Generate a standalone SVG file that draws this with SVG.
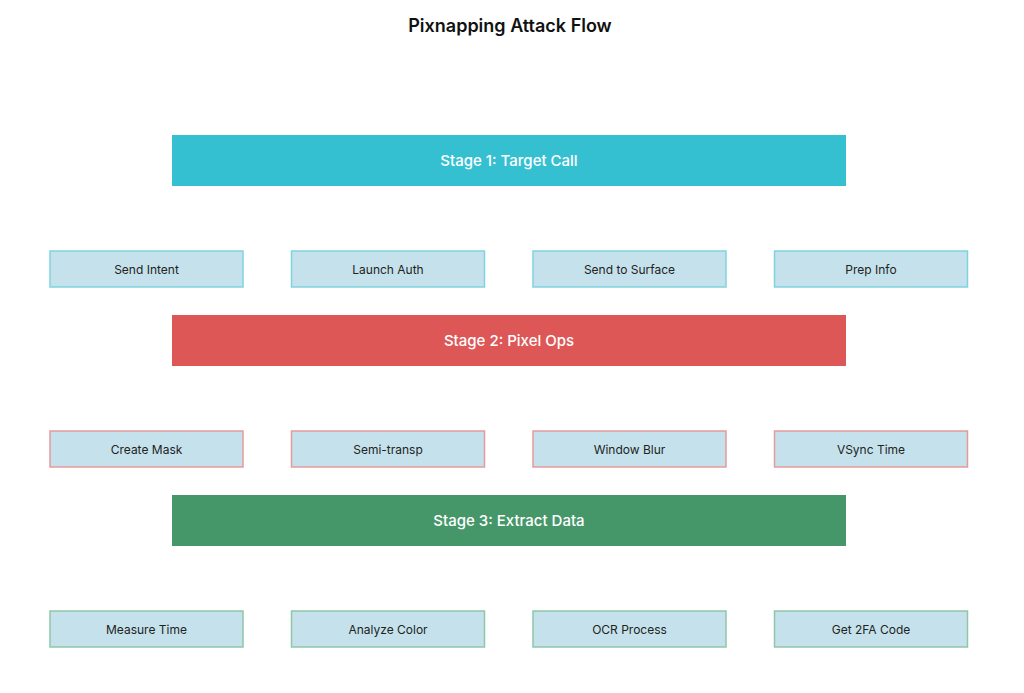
<svg xmlns="http://www.w3.org/2000/svg" width="1024" height="693" viewBox="0 0 1024 693">
<style>
text{font-family:Inter,"Liberation Sans",sans-serif;text-anchor:middle;dominant-baseline:central}
.st{font-size:15px;fill:#fff;font-weight:500}
.b{fill:#c5e2ec;stroke-width:1.5}
.bl{font-size:12px;fill:#222}
.s1 .b{stroke:#7fd3e0}.s2 .b{stroke:#e59a9a}.s3 .b{stroke:#8fc6a8}
</style>
<rect width="1024" height="693" fill="#fff"/>
<text x="510" y="25" font-size="18" font-weight="600" fill="#111">Pixnapping Attack Flow</text>
<g id="stage1"><rect x="172" y="135" width="674" height="51" fill="#35c0d2"/><text class="st" x="509" y="160">Stage 1: Target Call</text></g>
<g id="stage2"><rect x="172" y="315" width="674" height="51" fill="#de5757"/><text class="st" x="509" y="340">Stage 2: Pixel Ops</text></g>
<g id="stage3"><rect x="172" y="495" width="674" height="51" fill="#459769"/><text class="st" x="509" y="520">Stage 3: Extract Data</text></g>
<g class="s1">
<g id="n1"><rect class="b" x="50" y="251" width="193" height="36"/><text class="bl" x="146.5" y="269">Send Intent</text></g>
<g id="n2"><rect class="b" x="291.5" y="251" width="193" height="36"/><text class="bl" x="388" y="269">Launch Auth</text></g>
<g id="n3"><rect class="b" x="533" y="251" width="193" height="36"/><text class="bl" x="629.5" y="269">Send to Surface</text></g>
<g id="n4"><rect class="b" x="774.5" y="251" width="193" height="36"/><text class="bl" x="871" y="269">Prep Info</text></g>
</g>
<g class="s2">
<g id="n5"><rect class="b" x="50" y="431" width="193" height="36"/><text class="bl" x="146.5" y="449">Create Mask</text></g>
<g id="n6"><rect class="b" x="291.5" y="431" width="193" height="36"/><text class="bl" x="388" y="449">Semi-transp</text></g>
<g id="n7"><rect class="b" x="533" y="431" width="193" height="36"/><text class="bl" x="629.5" y="449">Window Blur</text></g>
<g id="n8"><rect class="b" x="774.5" y="431" width="193" height="36"/><text class="bl" x="871" y="449">VSync Time</text></g>
</g>
<g class="s3">
<g id="n9"><rect class="b" x="50" y="611" width="193" height="36"/><text class="bl" x="146.5" y="629">Measure Time</text></g>
<g id="n10"><rect class="b" x="291.5" y="611" width="193" height="36"/><text class="bl" x="388" y="629">Analyze Color</text></g>
<g id="n11"><rect class="b" x="533" y="611" width="193" height="36"/><text class="bl" x="629.5" y="629">OCR Process</text></g>
<g id="n12"><rect class="b" x="774.5" y="611" width="193" height="36"/><text class="bl" x="871" y="629">Get 2FA Code</text></g>
</g>
<g id="connectors"/>
</svg>
